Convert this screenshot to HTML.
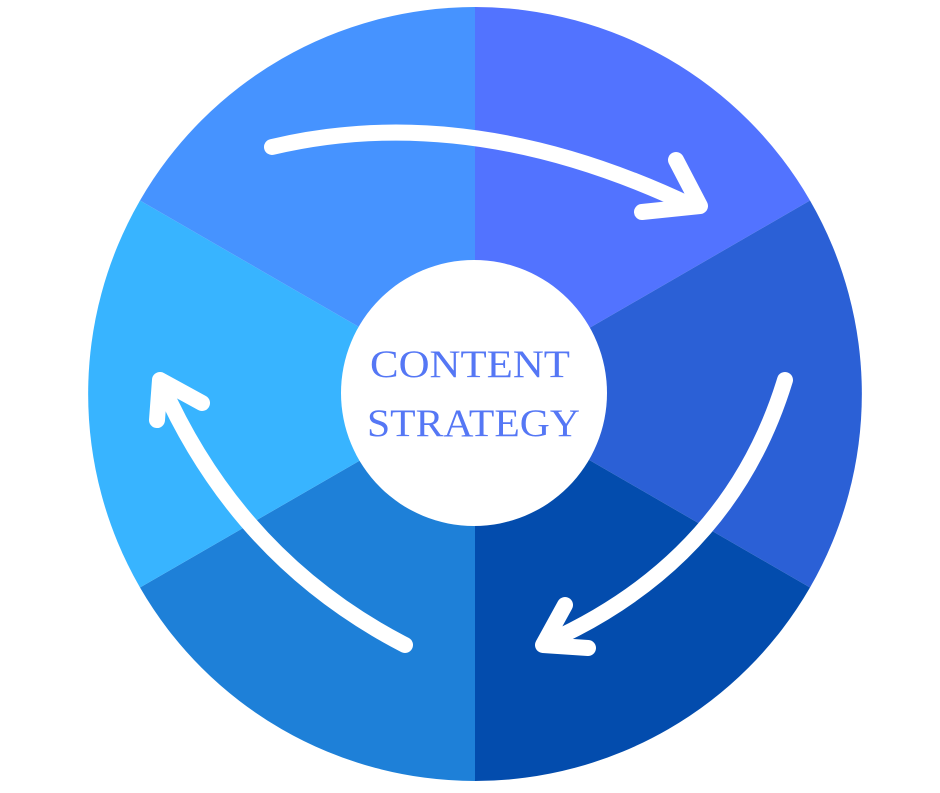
<!DOCTYPE html>
<html><head><style>body{margin:0;background:#fff}</style></head><body>
<svg width="940" height="788" viewBox="0 0 940 788" xmlns="http://www.w3.org/2000/svg">
<path d="M475 394 L475 7 A387 387 0 0 1 810 200.5 Z" fill="#5273FF"/>
<path d="M475 394 L810 200.5 A387 387 0 0 1 810 587.5 Z" fill="#2B60D6"/>
<path d="M475 394 L810 587.5 A387 387 0 0 1 475 781 Z" fill="#034CAD"/>
<path d="M475 394 L475 781 A387 387 0 0 1 140 587.5 Z" fill="#1E80D8"/>
<path d="M475 394 L140 587.5 A387 387 0 0 1 140 200.5 Z" fill="#38B4FF"/>
<path d="M475 394 L140 200.5 A387 387 0 0 1 475 7 Z" fill="#4693FF"/>
<circle cx="474" cy="393" r="133" fill="#fff"/>
<g fill="none" stroke="#fff" stroke-width="16" stroke-linecap="round" stroke-linejoin="round">
<path d="M272 147 Q470 100 692 206"/>
<path d="M676 160 L700 206 L642 212"/>
<path d="M785 380 Q730 560 548 642"/>
<path d="M565 605 L543 645 L588 648"/>
<path d="M405 645 Q240 560 162 385"/>
<path d="M157 420 L160 380 L202 403"/>
</g>
<g font-family="'Liberation Serif',serif" font-size="39" fill="#5577F5">
<text x="370" y="377" textLength="200" lengthAdjust="spacingAndGlyphs">CONTENT</text>
<text x="367" y="436" textLength="213" lengthAdjust="spacingAndGlyphs">STRATEGY</text>
</g>
</svg>
</body></html>
